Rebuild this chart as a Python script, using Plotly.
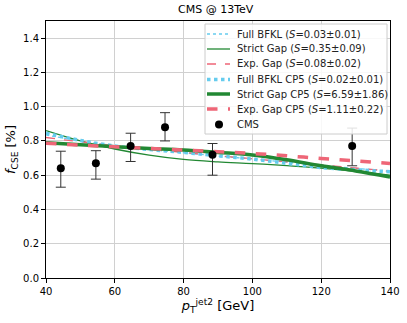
import plotly.graph_objects as go

# theory curves, sampled at these pT values
pt_grid = [40, 50, 60, 70, 80, 90, 100, 110, 120, 130, 140]

full_bfkl = [0.835, 0.80, 0.772, 0.75, 0.731, 0.712, 0.694, 0.676, 0.658, 0.64, 0.622]
strict_gap = [0.86, 0.80, 0.753, 0.717, 0.692, 0.678, 0.668, 0.656, 0.641, 0.622, 0.600]
exp_gap = [0.82, 0.795, 0.772, 0.752, 0.733, 0.714, 0.696, 0.678, 0.66, 0.642, 0.624]
full_bfkl_cp5 = [0.845, 0.803, 0.77, 0.75, 0.733, 0.713, 0.694, 0.670, 0.645, 0.632, 0.620]
strict_gap_cp5 = [0.79, 0.778, 0.766, 0.756, 0.747, 0.733, 0.718, 0.690, 0.655, 0.625, 0.590]
exp_gap_cp5 = [0.786, 0.776, 0.766, 0.756, 0.747, 0.737, 0.727, 0.713, 0.698, 0.684, 0.669]

# CMS data
cms_pt = [44.3, 54.5, 64.6, 74.6, 88.4, 129.0]
cms_f = [0.64, 0.67, 0.77, 0.88, 0.72, 0.77]
cms_err_up = [0.10, 0.073, 0.075, 0.085, 0.065, 0.105]
cms_err_dn = [0.11, 0.093, 0.09, 0.08, 0.12, 0.115]

labels = ['Full BFKL (<i>S</i>=0.03±0.01)', 'Strict Gap (<i>S</i>=0.35±0.09)',
          'Exp. Gap (<i>S</i>=0.08±0.02)', 'Full BFKL CP5 (<i>S</i>=0.02±0.01)',
          'Strict Gap CP5 (<i>S</i>=6.59±1.86)', 'Exp. Gap CP5 (<i>S</i>=1.11±0.22)']

BLUE = '#66CCEE'
GREEN = '#228833'
RED = '#EE6677'
styles = [(BLUE, 'dot', 1.3), (GREEN, 'solid', 1.3), (RED, 'dash', 1.3),
          (BLUE, 'dot', 3.5), (GREEN, 'solid', 3.5), (RED, 'dash', 3.5)]
curves = [full_bfkl, strict_gap, exp_gap, full_bfkl_cp5, strict_gap_cp5, exp_gap_cp5]

fig = go.Figure()
for name, ys, (col, dash, w) in zip(labels, curves, styles):
    fig.add_trace(go.Scatter(x=pt_grid, y=ys, mode='lines', name=name, showlegend=False,
                             line=dict(color=col, dash=dash, width=w, shape='spline')))

fig.add_trace(go.Scatter(
    x=cms_pt, y=cms_f, mode='markers', name='CMS', showlegend=False,
    marker=dict(color='black', size=8),
    error_y=dict(type='data', symmetric=False, array=cms_err_up, arrayminus=cms_err_dn,
                 color='#333333', thickness=1, width=5)))

# hand-built legend box (matplotlib-like compact spacing), in plot-area pixel units
X0, Y0, W, H = 46, 21, 344, 257  # plot area in figure pixels
px = lambda v: (v - X0) / W
py = lambda v: (Y0 + H - v) / H

fig.add_shape(type='rect', xref='paper', yref='paper', layer='above',
              x0=px(205), x1=px(387), y0=py(134), y1=py(24),
              fillcolor='rgba(255,255,255,0.85)', line=dict(color='#cccccc', width=1))
row_y = [34, 49, 64, 79.5, 94, 109, 124.5]
for i, (name, (col, dash, w)) in enumerate(zip(labels, styles)):
    fig.add_shape(type='line', xref='paper', yref='paper', layer='above',
                  x0=px(207), x1=px(230), y0=py(row_y[i]), y1=py(row_y[i]),
                  line=dict(color=col, dash=dash, width=w))
    fig.add_annotation(xref='paper', yref='paper', x=px(235), y=py(row_y[i]),
                       text=name, showarrow=False, xanchor='left', yanchor='middle',
                       font=dict(size=10, color='#222222'))
fig.add_shape(type='circle', xref='paper', yref='paper', layer='above',
              x0=px(215), x1=px(223), y0=py(row_y[6] + 4), y1=py(row_y[6] - 4),
              fillcolor='black', line=dict(color='black', width=0))
fig.add_annotation(xref='paper', yref='paper', x=px(235), y=py(row_y[6]),
                   text='CMS', showarrow=False, xanchor='left', yanchor='middle',
                   font=dict(size=10, color='#222222'))

axis_style = dict(showline=True, linecolor='black', linewidth=1, mirror=True,
                  ticks='outside', tickcolor='black', ticklen=4, automargin=False,
                  showgrid=True, gridcolor='#d0d0d0', gridwidth=1, zeroline=False,
                  tickfont=dict(size=10, color='black'))

fig.update_xaxes(range=[40, 140], dtick=20, **axis_style,
                 title=dict(text='<i>p</i><sub>T</sub><sup>jet2</sup> [GeV]',
                            font=dict(size=13, color='black'), standoff=2))
fig.update_yaxes(range=[0, 1.5], dtick=0.2, tickformat='.1f', **axis_style,
                 title=dict(text='<i>f</i><sub>CSE</sub> [%]',
                            font=dict(size=13, color='black'), standoff=4))

fig.update_layout(
    width=407, height=323,
    margin=dict(l=46, r=17, t=21, b=45),
    plot_bgcolor='white', paper_bgcolor='white',
    font=dict(family='DejaVu Sans', size=10, color='black'),
    title=dict(text='CMS @ 13TeV', x=0.53, xanchor='center', y=0.985, yanchor='top',
               font=dict(size=11, color='black')),
    showlegend=False,
)

fig.write_html('out.html', config={'displayModeBar': False},
               post_script="document.body.style.margin='0';")
